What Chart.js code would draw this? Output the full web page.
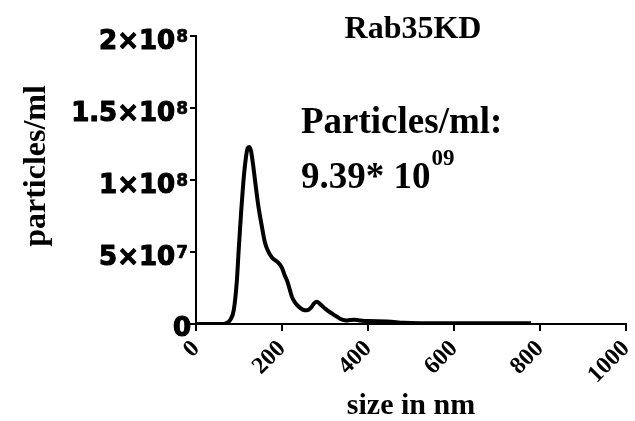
<!DOCTYPE html>
<html><head><meta charset="utf-8">
<script src="https://cdn.jsdelivr.net/npm/chart.js@4/dist/chart.umd.min.js"></script>
<style>html,body{margin:0;padding:0;background:#fff}#wrap{width:635px;height:421px;position:relative}</style>
</head><body><div id="wrap"><canvas id="c"></canvas></div>
<script>
// ---- data ----
const sizesNm = [0, 20, 40, 60, 70, 80, 88, 95, 100, 105, 110, 115, 120, 124, 128, 133, 138, 145, 153, 160, 167, 177, 190, 200, 206, 212, 218, 223, 230, 239, 248, 258, 268, 275, 281, 288, 301, 315, 328, 340, 351, 367, 380, 400, 445, 483, 520, 600, 700, 779];
const particlesE7 = [0, 0, 0, 0, 0.05, 0.3, 1.0, 3.0, 5.5, 7.8, 9.8, 11.3, 12.2, 12.3, 12.0, 11.0, 9.8, 8.2, 6.8, 5.7, 5.1, 4.6, 4.3, 3.9, 3.4, 3.0, 2.4, 1.9, 1.5, 1.2, 1.0, 0.95, 1.15, 1.45, 1.55, 1.4, 1.05, 0.75, 0.5, 0.3, 0.25, 0.3, 0.25, 0.2, 0.18, 0.08, 0.05, 0.05, 0.05, 0.05];
const particlesPerMl = particlesE7.map(v => v * 1e7);
const xTickValues = [0, 200, 400, 600, 800, 1000];
const xTickLabels = ['0', '200', '400', '600', '800', '1000'];
const yTickValues = [0, 5e7, 1e8, 1.5e8, 2e8];
const yTickBases = ['0', '5×10', '1×10', '1.5×10', '2×10'];
const yTickExponents = ['', '7', '8', '8', '8'];
const chartTitle = 'Rab35KD';
const xAxisTitle = 'size in nm';
const yAxisTitle = 'particles/ml';
const noteLine1 = 'Particles/ml:';
const noteBase = '9.39* 10';
const noteExp = '09';

const SERIF = '"Liberation Serif", "Times New Roman", serif';
const SANS = '"DejaVu Sans", sans-serif';

function heavyText(ctx, txt, x, y, w) {
  ctx.lineWidth = w;
  ctx.strokeText(txt, x, y);
  ctx.fillText(txt, x, y);
}

const textPlugin = {
  id: 'texts',
  afterDraw(chart) {
    const ctx = chart.ctx;
    const ys = chart.scales.y;
    ctx.save();
    ctx.fillStyle = '#000';
    ctx.strokeStyle = '#000';
    ctx.lineJoin = 'round';
    // y tick labels with superscripts
    yTickValues.forEach((v, i) => {
      const py = ys.getPixelForValue(v);
      const exp = yTickExponents[i];
      ctx.textBaseline = 'alphabetic';
      ctx.textAlign = 'right';
      if (exp) {
        ctx.font = 'bold 17px ' + SANS;
        heavyText(ctx, exp, 188, py + 6, 0.6);
        const ew = ctx.measureText(exp).width;
        ctx.font = 'bold 26px ' + SANS;
        heavyText(ctx, yTickBases[i], 188 - ew - 1, py + 13, 1.2);
      } else {
        ctx.font = 'bold 26px ' + SANS;
        heavyText(ctx, yTickBases[i], 191, py + 12, 1.2);
      }
    });
    // title
    ctx.font = 'bold 32px ' + SERIF;
    ctx.textAlign = 'center';
    ctx.fillText(chartTitle, 413, 38);
    // x title
    ctx.font = 'bold 30px ' + SERIF;
    ctx.fillText(xAxisTitle, 411, 414);
    // y title
    ctx.save();
    ctx.translate(37, 166);
    ctx.rotate(-Math.PI / 2);
    ctx.textBaseline = 'middle';
    ctx.font = 'bold 32px ' + SERIF;
    ctx.fillText(yAxisTitle, 0, 0);
    ctx.restore();
    // annotation
    ctx.textAlign = 'left';
    ctx.font = 'bold 37px ' + SERIF;
    ctx.fillText(noteLine1, 301, 133);
    ctx.fillText(noteBase, 301, 188);
    const bw = ctx.measureText(noteBase).width;
    ctx.font = 'bold 23px ' + SERIF;
    ctx.fillText(noteExp, 301 + bw + 1, 165);
    ctx.restore();
  }
};

new Chart(document.getElementById('c'), {
  type: 'line',
  data: {
    datasets: [{
      data: sizesNm.map((x, i) => ({ x, y: particlesPerMl[i] })),
      borderColor: '#000',
      borderWidth: 4,
      pointRadius: 0,
      fill: false,
      cubicInterpolationMode: 'monotone'
    }]
  },
  options: {
    responsive: true,
    maintainAspectRatio: false,
    animation: false,
    layout: { padding: { top: 36, right: 9, left: 0, bottom: 0 } },
    plugins: { legend: { display: false }, title: { display: false }, tooltip: { enabled: false } },
    scales: {
      x: {
        type: 'linear', min: 0, max: 1000,
        afterBuildTicks: s => { s.ticks = xTickValues.map(v => ({ value: v })); },
        ticks: {
          color: '#000', font: { family: SERIF, size: 24, weight: 'bold' },
          minRotation: 45, maxRotation: 45, padding: 4, autoSkip: false,
          callback: (v) => xTickLabels[xTickValues.indexOf(v)]
        },
        grid: { drawOnChartArea: false, color: '#000', lineWidth: 2, tickLength: 7 },
        border: { color: '#000', width: 2 },
        afterFit: s => { s.height = 97; s.paddingLeft = 0; s.paddingRight = 0; }
      },
      y: {
        min: 0, max: 2e8,
        afterBuildTicks: s => { s.ticks = yTickValues.map(v => ({ value: v })); },
        ticks: { display: false },
        grid: { drawOnChartArea: false, color: '#000', lineWidth: 2, tickLength: 6 },
        border: { color: '#000', width: 2 },
        afterFit: s => { s.width = 196; s.paddingTop = 0; s.paddingBottom = 0; }
      }
    }
  },
  plugins: [textPlugin]
});
</script>
</body></html>
